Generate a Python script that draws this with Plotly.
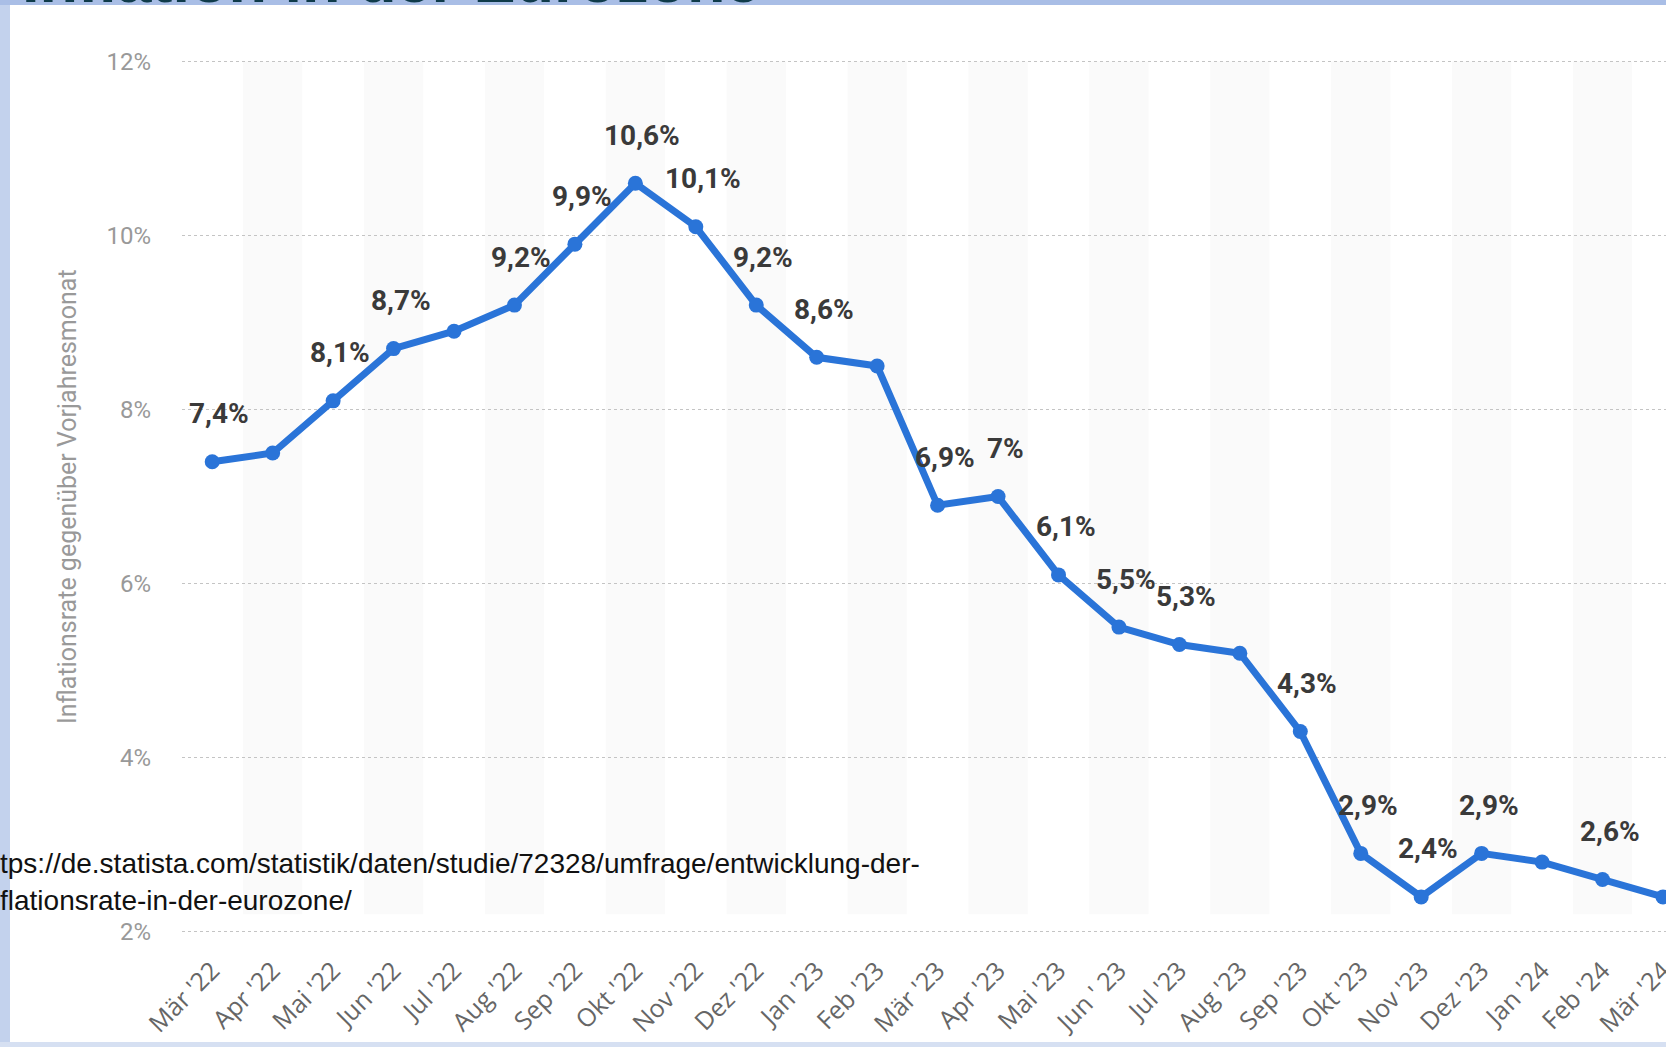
import plotly.graph_objects as go

# Inflationsrate Eurozone, Veränderung gegenüber Vorjahresmonat (%)
months = ["Mär '22", "Apr '22", "Mai '22", "Jun '22", "Jul '22", "Aug '22", "Sep '22",
          "Okt '22", "Nov '22", "Dez '22", "Jan '23", "Feb '23", "Mär '23", "Apr '23",
          "Mai '23", "Jun ' 23", "Jul '23", "Aug '23", "Sep '23", "Okt '23", "Nov '23",
          "Dez '23", "Jan '24", "Feb '24", "Mär '24"]
rates = [7.4, 7.5, 8.1, 8.7, 8.9, 9.2, 9.9, 10.6, 10.1, 9.2, 8.6, 8.5, 6.9, 7.0,
         6.1, 5.5, 5.3, 5.2, 4.3, 2.9, 2.4, 2.9, 2.8, 2.6, 2.4]
labels = ["7,4%", "", "8,1%", "8,7%", "", "9,2%", "9,9%", "10,6%", "10,1%", "9,2%",
          "8,6%", "", "6,9%", "7%", "6,1%", "5,5%", "5,3%", "", "4,3%", "2,9%",
          "2,4%", "2,9%", "", "2,6%", ""]
y_ticks = [2, 4, 6, 8, 10, 12]

xs = list(range(len(months)))

# pixel layout helpers (figure is 1666 x 1047)
W, H = 1666, 1047
L, R, T, B = 182, 0, 44, 97
pw, ph = W - L - R, H - T - B


def px(x):
    return (x - L) / pw


def py(y):
    return (H - B - y) / ph


blue = "#2a74d8"
narrow = "Liberation Sans Narrow, Roboto, sans-serif"

fig = go.Figure()
fig.add_trace(go.Scatter(
    x=xs, y=rates, mode="lines+markers",
    line=dict(color=blue, width=7),
    marker=dict(color=blue, size=15),
    hoverinfo="skip", showlegend=False,
))

# alternating light bands behind the line
shapes = []
for i in xs:
    if i % 2 == 1:
        shapes.append(dict(type="rect", xref="x", yref="y", x0=i - 0.49, x1=i + 0.49,
                           y0=2.2, y1=12, fillcolor="#fafafa", line=dict(width=0),
                           layer="below"))

# light blue frame of the screenshot
frame = "#c3d2ed"
shapes += [
    dict(type="rect", xref="paper", yref="paper", x0=px(0), x1=px(10), y0=py(H), y1=py(0),
         fillcolor=frame, line=dict(width=0), layer="above"),
    dict(type="rect", xref="paper", yref="paper", x0=px(0), x1=px(W), y0=py(5), y1=py(0),
         fillcolor="#a9bee6", line=dict(width=0), layer="above"),
    dict(type="rect", xref="paper", yref="paper", x0=px(0), x1=px(W), y0=py(H), y1=py(1042),
         fillcolor="#d6e0f2", line=dict(width=0), layer="above"),
]

annotations = []
for x, y, t in zip(xs, rates, labels):
    if t:
        annotations.append(dict(x=x, y=y, text=t, showarrow=False, xshift=7, yshift=48,
                                font=dict(family=narrow, size=28, color="#3a3a3a", weight="bold")))

annotations += [
    dict(xref="paper", yref="paper", x=px(67), y=py(497), text="Inflationsrate gegenüber Vorjahresmonat",
         textangle=-90, showarrow=False, xanchor="center", yanchor="middle",
         font=dict(family=narrow, size=25, color="#999999")),
    dict(xref="paper", yref="paper", x=px(-2), y=py(863), xanchor="left", yanchor="middle",
         text="tps://de.statista.com/statistik/daten/studie/72328/umfrage/entwicklung-der-",
         showarrow=False, font=dict(family="Liberation Sans, Arial, sans-serif", size=28, color="#111")),
    dict(xref="paper", yref="paper", x=px(-2), y=py(900), xanchor="left", yanchor="middle",
         text="flationsrate-in-der-eurozone/",
         showarrow=False, font=dict(family="Liberation Sans, Arial, sans-serif", size=28, color="#111")),
    # top of the slide title, mostly cut off
    dict(xref="paper", yref="paper", x=px(20), y=py(17), xanchor="left", yanchor="bottom",
         text="Inflation in der Eurozone", showarrow=False,
         font=dict(family="Liberation Sans, Arial, sans-serif", size=63, color="#0f3b4a", weight="bold")),
]

fig.update_layout(
    width=W, height=H,
    margin=dict(l=L, r=R, t=T, b=B, autoexpand=False),
    paper_bgcolor="white", plot_bgcolor="white",
    shapes=shapes, annotations=annotations,
    xaxis=dict(range=[-0.5, 24.05], tickvals=xs, ticktext=months, tickangle=-45,
               showgrid=False, zeroline=False, showline=False,
               ticklabeloverflow="allow", automargin=False,
               tickfont=dict(family="Open Sans, sans-serif", size=25, color="#666")),
    yaxis=dict(range=[1.79, 12.2], tickvals=y_ticks, ticktext=[f"{v}%" for v in y_ticks],
               showgrid=True, gridcolor="#c4c4c4", griddash="dot", gridwidth=1,
               zeroline=False, showline=False, ticklabelstandoff=30, automargin=False,
               tickfont=dict(family=narrow, size=24, color="#999999")),
)

# page body margin would shift the figure by 8px; no scrollbars either
fig.write_html("out.html", config={"displayModeBar": False},
               post_script="document.body.style.margin='0';"
                           "document.documentElement.style.overflow='hidden';")
